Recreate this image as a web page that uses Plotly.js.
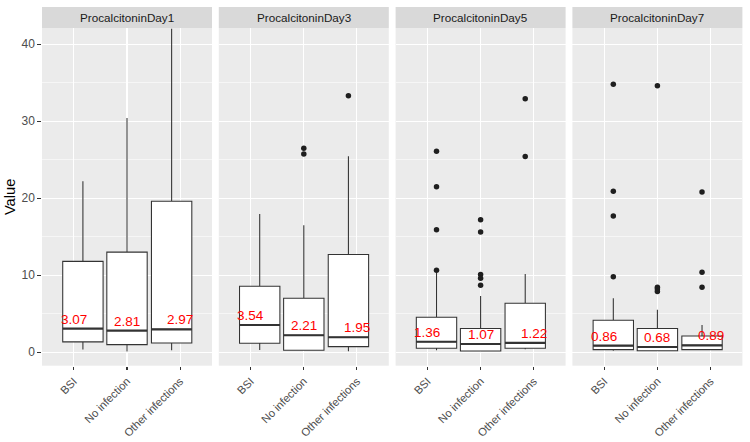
<!DOCTYPE html>
<html>
<head>
<meta charset="utf-8">
<script src="https://cdn.plot.ly/plotly-3.0.1.min.js"></script>
<style>html,body{margin:0;padding:0;background:#fff;}#chart{width:750px;height:442px;}</style>
</head>
<body>
<div id="chart"></div>
<script>
// ---- data ----
const panels = ['ProcalcitoninDay1', 'ProcalcitoninDay3', 'ProcalcitoninDay5', 'ProcalcitoninDay7'];
const categories = ['BSI', 'No infection', 'Other infections'];
const yTicks = [0, 10, 20, 30, 40];
const lowWhisker = [[0.34, 0.08, 0.26], [0.30, 0.20, 0.13], [0.26, 0.10, 0.40], [0.20, 0.15, 0.25]];
const q1 = [[1.34, 0.99, 1.20], [1.17, 0.26, 0.73], [0.52, 0.17, 0.52], [0.34, 0.20, 0.34]];
const medians = [[3.07, 2.81, 2.97], [3.54, 2.21, 1.95], [1.36, 1.07, 1.22], [0.86, 0.68, 0.89]];
const q3 = [[11.8, 13.0, 19.6], [8.57, 7.0, 12.7], [4.55, 3.07, 6.36], [4.15, 3.07, 2.1]];
const highWhisker = [[22.2, 30.4, 42.0], [17.96, 16.5, 25.45], [10.4, 7.3, 10.17], [7.0, 5.5, 3.55]];
const outliers = [
  [[], [], []],
  [[], [26.5, 25.75], [33.3]],
  [[26.1, 21.5, 15.9, 10.65], [17.2, 15.6, 10.1, 9.6, 8.7], [32.9, 25.4]],
  [[34.8, 20.9, 17.7, 9.8], [34.6, 8.44, 8.22, 7.9], [20.8, 10.4, 8.44]]
];

// ---- layout helpers ----
const W = 750, H = 442;
const panelLeft = 42, panelW = 170, panelGap = 6.8;
const panelTop = 28, panelBottom = 365.7, stripTop = 7;
const boxOffset = [0.17, 0.0, -0.16];
const boxWidth = 0.76;
const lineCol = '#333333';

const traces = [];
const layout = {
  width: W, height: H,
  margin: {l: 0, r: 0, t: 0, b: 0},
  paper_bgcolor: '#FFFFFF',
  plot_bgcolor: '#EBEBEB',
  showlegend: false,
  hovermode: false,
  boxmode: 'overlay',
  font: {family: 'Liberation Sans, Arial, sans-serif', color: '#4D4D4D'},
  shapes: [],
  annotations: []
};

panels.forEach((p, i) => {
  const xa = i === 0 ? 'x' : 'x' + (i + 1);
  const ya = i === 0 ? 'y' : 'y' + (i + 1);
  const xKey = i === 0 ? 'xaxis' : 'xaxis' + (i + 1);
  const yKey = i === 0 ? 'yaxis' : 'yaxis' + (i + 1);
  const x0 = panelLeft + i * (panelW + panelGap);
  const x1 = x0 + panelW;
  layout[xKey] = {
    domain: [x0 / W, x1 / W],
    anchor: ya,
    range: [0.4, 3.6],
    tickmode: 'array',
    tickvals: [1, 2, 3],
    ticktext: categories,
    tickangle: -45,
    ticks: 'outside', ticklen: 3.7, tickwidth: 1.07, tickcolor: lineCol,
    tickfont: {size: 11.2, color: '#4D4D4D'},
    showgrid: true, gridcolor: '#FFFFFF', gridwidth: 1.07,
    zeroline: false, showline: false, fixedrange: true
  };
  layout[yKey] = {
    domain: [(H - panelBottom) / H, (H - panelTop) / H],
    anchor: xa,
    range: [-1.75, 42.1],
    tickmode: 'array',
    tickvals: yTicks,
    ticks: i === 0 ? 'outside' : '', ticklen: 3.7, tickwidth: 1.07, tickcolor: lineCol,
    showticklabels: i === 0,
    tickfont: {size: 12, color: '#4D4D4D'},
    showgrid: true, gridcolor: '#FFFFFF', gridwidth: 1.07,
    minor: {tickmode: 'array', tickvals: [5, 15, 25, 35], showgrid: true, gridcolor: '#FFFFFF', gridwidth: 0.53, ticks: ''},
    zeroline: false, showline: false, fixedrange: true
  };
  if (i === 0) {
    layout[yKey].title = {text: 'Value', font: {size: 14.7, color: '#000000'}, standoff: 2};
  } else {
    layout[yKey].matches = 'y';
  }
  // strip
  layout.shapes.push({
    type: 'rect', xref: 'paper', yref: 'paper',
    x0: x0 / W, x1: x1 / W, y0: (H - panelTop) / H, y1: (H - stripTop) / H,
    fillcolor: '#D9D9D9', line: {width: 0}, layer: 'below'
  });
  layout.annotations.push({
    xref: 'paper', yref: 'paper', x: (x0 + x1) / 2 / W, y: (H - (panelTop + stripTop) / 2) / H,
    text: p, showarrow: false, xanchor: 'center', yanchor: 'middle',
    font: {size: 11.7, color: '#1A1A1A'}
  });

  categories.forEach((c, j) => {
    const pos = (j + 1) + boxOffset[j];
    traces.push({
      type: 'box', xaxis: xa, yaxis: ya,
      x: [pos], q1: [q1[i][j]], median: [medians[i][j]], q3: [q3[i][j]],
      lowerfence: [lowWhisker[i][j]], upperfence: [highWhisker[i][j]],
      width: boxWidth, whiskerwidth: 0, boxpoints: false,
      fillcolor: '#FFFFFF', line: {color: lineCol, width: 1.07},
      hoverinfo: 'skip'
    });
    // thicker median line (ggplot style)
    traces.push({
      type: 'scatter', mode: 'lines', xaxis: xa, yaxis: ya,
      x: [pos - boxWidth / 2, pos + boxWidth / 2], y: [medians[i][j], medians[i][j]],
      line: {color: lineCol, width: 2.1}, hoverinfo: 'skip'
    });
    if (outliers[i][j].length) {
      traces.push({
        type: 'scatter', mode: 'markers', xaxis: xa, yaxis: ya,
        x: outliers[i][j].map(() => pos), y: outliers[i][j],
        marker: {color: '#1F1F1F', size: 5.5}, hoverinfo: 'skip'
      });
    }
    layout.annotations.push({
      xref: xa, yref: ya, x: j + 1, y: medians[i][j],
      text: medians[i][j].toFixed(2), showarrow: false,
      xanchor: 'center', yanchor: 'bottom', yshift: 0,
      font: {size: 13.5, color: '#FF0000'}
    });
  });
});

Plotly.newPlot('chart', traces, layout, {displayModeBar: false, staticPlot: true});
</script>
</body>
</html>
